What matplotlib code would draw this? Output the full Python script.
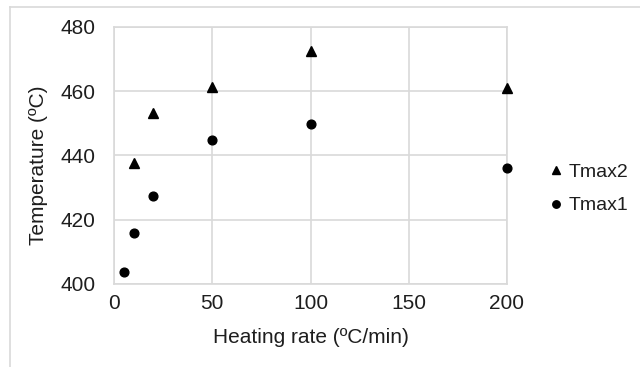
import matplotlib
matplotlib.use("Agg")
import matplotlib.pyplot as plt
from matplotlib.lines import Line2D

plt.rcParams['font.family'] = ['Liberation Sans', 'DejaVu Sans']

rate1 = [5, 10, 20, 50, 100, 200]
tmax1 = [403.8, 415.8, 427.5, 444.8, 449.8, 436.0]
rate2 = [10, 20, 50, 100, 200]
tmax2 = [437.6, 453.1, 461.4, 472.5, 460.9]
xticks = [0, 50, 100, 150, 200]
yticks = [400, 420, 440, 460, 480]

W, H = 640, 367
fig = plt.figure(figsize=(6.4, 3.67), dpi=100)
ax = fig.add_axes([114/W, 1-284/H, (507-114)/W, (284-27)/H])

grid = '#d9d9d9'
txt = '#1e1e1e'
fs = 15
ax.plot(rate2, tmax2, linestyle='none', marker='^', color='black', markersize=6.5, label='Tmax2', clip_on=False, zorder=3)
ax.plot(rate1, tmax1, linestyle='none', marker='o', color='black', markersize=6.3, label='Tmax1', clip_on=False, zorder=3)

ax.set_xlim(0, 200)
ax.set_ylim(400, 480)
ax.set_xticks(xticks)
ax.set_yticks(yticks)
ax.grid(True, color=grid, linewidth=1.2)
ax.set_axisbelow(True)
for s in ax.spines.values():
    s.set_color(grid)
    s.set_linewidth(1.2)
ax.tick_params(length=0, labelsize=fs, colors=txt)
ax.tick_params(axis='y', pad=13.5)
ax.tick_params(axis='x', pad=7.5)
ax.set_xlabel('Heating rate (ºC/min)', fontsize=fs, color=txt, va='center')
ax.set_ylabel('Temperature (ºC)', fontsize=fs, color=txt, va='center')
ax.xaxis.set_label_coords(0.5, -0.21)
ax.yaxis.set_label_coords(-0.193, 0.461)

leg = fig.legend(handles=ax.get_legend_handles_labels()[0], loc='center left',
                 bbox_to_anchor=(533/W, 1-189/H), frameon=False,
                 fontsize=14, handlelength=0.6, handletextpad=0.32, labelspacing=0.8,
                 labelcolor=txt, markerscale=0.85, borderpad=0.4)

# outer chart border (top and left visible)
fig.add_artist(Line2D([10/W, 1], [1-7/H, 1-7/H], color=grid, linewidth=1.2))
fig.add_artist(Line2D([10/W, 10/W], [0, 1-7/H], color=grid, linewidth=1.2))

fig.savefig('out.png', dpi=100, facecolor='white')
